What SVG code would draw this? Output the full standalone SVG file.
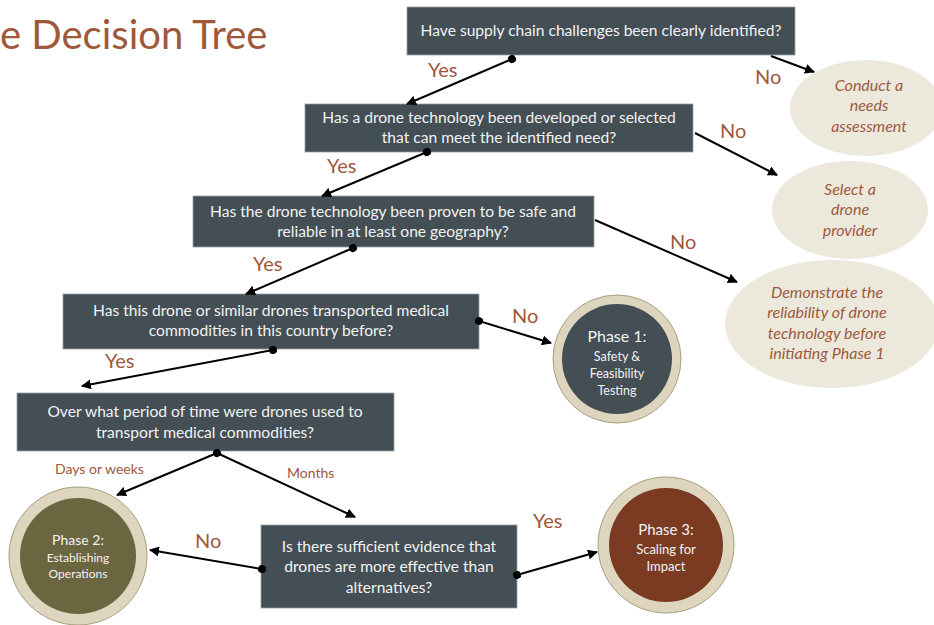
<svg xmlns="http://www.w3.org/2000/svg" width="934" height="625" viewBox="0 0 934 625">
<defs>
<marker id="arr" viewBox="0 0 10 10" refX="9" refY="5" markerWidth="5" markerHeight="5" orient="auto" markerUnits="strokeWidth">
<path d="M0,0 L10,5 L0,10 z" fill="#000"/>
</marker>
<marker id="dot" viewBox="0 0 10 10" refX="5" refY="5" markerWidth="4" markerHeight="4" orient="auto" markerUnits="strokeWidth">
<circle cx="5" cy="5" r="5" fill="#000"/>
</marker>
</defs>
<style>
.box{fill:#444E55;stroke:#9aa0a4;stroke-width:0.8}
.bt{font-family:Lato,"Liberation Sans",sans-serif;font-size:15.6px;fill:#F2F2F2;text-anchor:middle}
.ell{fill:#EDE8DC}
.et{font-family:Lato,"Liberation Sans",sans-serif;font-size:16px;font-style:italic;fill:#9C5A3C;text-anchor:middle}
.ring{fill:#DDD5BE;stroke:#A89E7E;stroke-width:1}
.pt{font-family:Lato,"Liberation Sans",sans-serif;fill:#F2F2F2;text-anchor:middle}
.lbl{font-family:Lato,"Liberation Sans",sans-serif;font-size:20px;fill:#A0583A}
.sl{font-family:Lato,"Liberation Sans",sans-serif;font-size:14px;fill:#A0583A}
.c{stroke:#000;stroke-width:2;fill:none;marker-end:url(#arr)}
.cd{marker-start:url(#dot)}
</style>
<rect width="934" height="625" fill="#fff"/>
<text x="0" y="49" font-family="Lato,'Liberation Sans',sans-serif" font-size="40" fill="#A0583A">e Decision Tree</text>

<g id="q1"><rect class="box" x="407" y="7" width="388" height="48"/><text class="bt" x="601" y="36">Have supply chain challenges been clearly identified?</text></g>
<g id="q2"><rect class="box" x="305" y="104" width="388" height="48"/><text class="bt" x="499" y="123">Has a drone technology been developed or selected</text><text class="bt" x="499" y="143">that can meet the identified need?</text></g>
<g id="q3"><rect class="box" x="193" y="196" width="401" height="51"/><text class="bt" x="393" y="217">Has the drone technology been proven to be safe and</text><text class="bt" x="393" y="237">reliable in at least one geography?</text></g>
<g id="q4"><rect class="box" x="63" y="294" width="416" height="55"/><text class="bt" x="271" y="316">Has this drone or similar drones transported medical</text><text class="bt" x="271" y="336">commodities in this country before?</text></g>
<g id="q5"><rect class="box" x="17" y="393" width="377" height="58"/><text class="bt" x="205" y="417">Over what period of time were drones used to</text><text class="bt" x="205" y="438">transport medical commodities?</text></g>
<g id="q6"><rect class="box" x="261" y="525" width="256" height="83"/><text class="bt" x="389" y="552">Is there sufficient evidence that</text><text class="bt" x="389" y="572">drones are more effective than</text><text class="bt" x="389" y="593">alternatives?</text></g>

<g id="e1"><ellipse class="ell" cx="866" cy="108" rx="76" ry="48"/><text class="et" x="869" y="91">Conduct a</text><text class="et" x="869" y="111">needs</text><text class="et" x="869" y="132">assessment</text></g>
<g id="e2"><ellipse class="ell" cx="850" cy="210" rx="78" ry="49"/><text class="et" x="850" y="195">Select a</text><text class="et" x="850" y="215">drone</text><text class="et" x="850" y="236">provider</text></g>
<g id="e3"><ellipse class="ell" cx="832" cy="324" rx="107" ry="64"/><text class="et" x="827" y="298">Demonstrate the</text><text class="et" x="827" y="318">reliability of drone</text><text class="et" x="827" y="339">technology before</text><text class="et" x="827" y="359">initiating Phase 1</text></g>

<g id="p1"><circle class="ring" cx="617" cy="359" r="64"/><circle cx="617" cy="359" r="55" fill="#444E55"/><text class="pt" x="617" y="342" font-size="16">Phase 1:</text><text class="pt" x="617" y="361" font-size="12.5">Safety &amp;</text><text class="pt" x="617" y="378" font-size="12.5">Feasibility</text><text class="pt" x="617" y="395" font-size="12.5">Testing</text></g>
<g id="p2"><circle class="ring" cx="78" cy="556" r="69"/><circle cx="78" cy="556" r="58" fill="#6B6540"/><text class="pt" x="78" y="545" font-size="14">Phase 2:</text><text class="pt" x="78" y="562" font-size="12">Establishing</text><text class="pt" x="78" y="578" font-size="12">Operations</text></g>
<g id="p3"><circle class="ring" cx="666" cy="545" r="68"/><circle cx="666" cy="545" r="57" fill="#7A3B22"/><text class="pt" x="666" y="535" font-size="15">Phase 3:</text><text class="pt" x="666" y="554" font-size="13">Scaling for</text><text class="pt" x="666" y="571" font-size="13">Impact</text></g>

<g id="connectors">
<path class="c cd" d="M512,59 L407,104"/>
<path class="c" d="M771,56 L814,72"/>
<path class="c cd" d="M427,152 L322,196"/>
<path class="c" d="M695,133 L777,175"/>
<path class="c cd" d="M353,248 L246,294"/>
<path class="c" d="M595,220 L737,282"/>
<path class="c cd" d="M479,321 L551,343"/>
<path class="c cd" d="M273,350 L82,386"/>
<path class="c cd" d="M217,453 L117,495"/>
<path class="c" d="M217,453 L355,517"/>
<path class="c cd" d="M262,569 L150,550"/>
<path class="c cd" d="M517,575 L597,552"/>
</g>

<g id="labels">
<text class="lbl" x="428" y="77">Yes</text>
<text class="lbl" x="755" y="84">No</text>
<text class="lbl" x="327" y="173">Yes</text>
<text class="lbl" x="720" y="138">No</text>
<text class="lbl" x="253" y="271">Yes</text>
<text class="lbl" x="670" y="249">No</text>
<text class="lbl" x="512" y="323">No</text>
<text class="lbl" x="105" y="368">Yes</text>
<text class="sl" x="55" y="474">Days or weeks</text>
<text class="sl" x="287" y="478">Months</text>
<text class="lbl" x="195" y="548">No</text>
<text class="lbl" x="533" y="528">Yes</text>
</g>
</svg>
